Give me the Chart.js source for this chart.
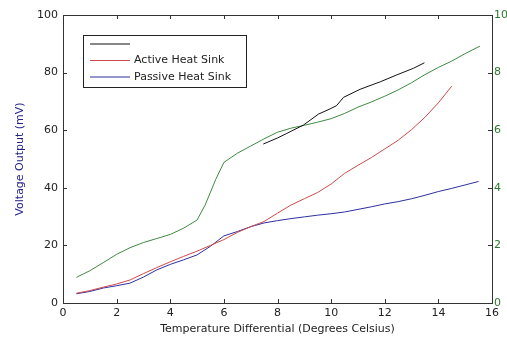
<!DOCTYPE html>
<html>
<head>
<meta charset="utf-8">
<script src="https://cdn.jsdelivr.net/npm/chart.js@4/dist/chart.umd.min.js"></script>
<style>
  body { margin: 0; background: #fff; }
  #c { display: block; }
</style>
</head>
<body>
<canvas id="c" width="507" height="338"></canvas>
<script>
// x ticks / axis ranges
const xTicks = [0, 2, 4, 6, 8, 10, 12, 14, 16];
const leftTicks = [0, 20, 40, 60, 80, 100];
const rightTicks = [0, 2, 4, 6, 8, 10];

// Active heat sink (mV)
const activeX = [0.5, 1, 1.5, 2, 2.5, 3, 3.5, 4, 4.5, 5, 5.5, 6, 6.5, 7, 7.5, 8, 8.5, 9, 9.5, 10, 10.5, 11, 11.5, 12, 12.5, 13, 13.5, 14, 14.5];
const activeY = [3.4, 4.3, 5.5, 6.6, 8, 10.2, 12.3, 14.3, 16.2, 18, 20, 22, 24.5, 26.5, 28.3, 31.2, 34, 36.2, 38.4, 41.3, 45, 47.8, 50.5, 53.5, 56.5, 60.2, 64.5, 69.5, 75.3];

// Passive heat sink (mV)
const passiveX = [0.5, 1, 1.5, 2, 2.5, 3, 3.5, 4, 4.5, 5, 5.5, 6, 6.5, 7, 7.5, 8, 8.5, 9, 9.5, 10, 10.5, 11, 11.5, 12, 12.5, 13, 13.5, 14, 14.5, 15, 15.5];
const passiveY = [3.2, 4, 5.2, 6, 6.9, 9, 11.5, 13.4, 15, 16.7, 19.7, 23.3, 24.8, 26.5, 27.8, 28.6, 29.3, 29.9, 30.5, 31, 31.6, 32.5, 33.4, 34.4, 35.2, 36.2, 37.4, 38.7, 39.8, 41, 42.2];

// unlabeled black series (mV)
const blackX = [7.47, 8, 8.35, 8.97, 9.53, 9.96, 10.2, 10.46, 11.08, 11.83, 12.45, 13.07, 13.48];
const blackY = [55.2, 57.3, 58.9, 61.8, 65.6, 67.4, 68.5, 71.4, 74.2, 76.8, 79.2, 81.5, 83.4];

// green series, right axis units
const greenX = [0.5, 1, 1.5, 2, 2.5, 3, 3.5, 4, 4.5, 5, 5.3, 5.7, 6, 6.5, 7, 7.5, 8, 8.5, 9, 9.5, 10, 10.5, 11, 11.5, 12, 12.5, 13, 13.5, 14, 14.5, 15, 15.55];
const greenY = [0.89, 1.12, 1.4, 1.69, 1.92, 2.1, 2.24, 2.38, 2.6, 2.88, 3.4, 4.3, 4.88, 5.2, 5.45, 5.7, 5.93, 6.07, 6.17, 6.28, 6.4, 6.58, 6.8, 6.98, 7.18, 7.4, 7.65, 7.93, 8.18, 8.4, 8.66, 8.92];

const pts = (xs, ys) => xs.map((x, i) => ({ x: x, y: ys[i] }));

const FONT = "'DejaVu Sans', Verdana, sans-serif";

// inward tick marks + frame, matlab style
const framePlugin = {
  id: "frame",
  afterDatasetsDraw(chart) {
    const ctx = chart.ctx;
    const a = chart.chartArea;
    const sx = chart.scales.x, sy = chart.scales.y, sy1 = chart.scales.y1;
    ctx.save();
    ctx.strokeStyle = "#333";
    ctx.lineWidth = 1;
    ctx.beginPath();
    xTicks.forEach((v) => {
      const px = Math.round(sx.getPixelForValue(v)) + 0.5;
      ctx.moveTo(px, a.bottom); ctx.lineTo(px, a.bottom - 4);
      ctx.moveTo(px, a.top); ctx.lineTo(px, a.top + 4);
    });
    leftTicks.forEach((v) => {
      const py = Math.round(sy.getPixelForValue(v)) + 0.5;
      ctx.moveTo(a.left, py); ctx.lineTo(a.left + 4, py);
    });
    rightTicks.forEach((v) => {
      const py = Math.round(sy1.getPixelForValue(v)) + 0.5;
      ctx.moveTo(a.right, py); ctx.lineTo(a.right - 4, py);
    });
    ctx.stroke();
    ctx.strokeRect(Math.round(a.left) + 0.5, Math.round(a.top) + 0.5,
      Math.round(a.right - a.left), Math.round(a.bottom - a.top));

    // legend box
    const lx = 83, ly = 35, lw = 163, lh = 52;
    ctx.fillStyle = "#fff";
    ctx.fillRect(lx, ly, lw, lh);
    ctx.strokeStyle = "#222";
    ctx.strokeRect(lx + 0.5, ly + 0.5, lw, lh);
    const rows = [0, 1, 2];
    ctx.font = "11px " + FONT;
    ctx.textBaseline = "middle";
    rows.forEach((i) => {
      const ds = chart.data.datasets[i];
      const yy = 44 + i * 16.5;
      ctx.strokeStyle = ds.borderColor;
      ctx.beginPath();
      ctx.moveTo(90, yy); ctx.lineTo(130, yy);
      ctx.stroke();
      ctx.fillStyle = "#222";
      ctx.fillText(ds.label, 134, yy);
    });
    ctx.restore();
  }
};

new Chart(document.getElementById("c"), {
  type: "line",
  data: {
    datasets: [
      { label: "", data: pts(blackX, blackY), borderColor: "#111", yAxisID: "y" },
      { label: "Active Heat Sink", data: pts(activeX, activeY), borderColor: "#cf4a4a", yAxisID: "y" },
      { label: "Passive Heat Sink", data: pts(passiveX, passiveY), borderColor: "#2e2ea0", yAxisID: "y" },
      { label: "green", data: pts(greenX, greenY), borderColor: "#3f8a3f", yAxisID: "y1" }
    ]
  },
  options: {
    responsive: false,
    animation: false,
    layout: { padding: { top: 15, left: 0, right: 0, bottom: 0 } },
    elements: {
      point: { radius: 0 },
      line: { borderWidth: 1, tension: 0 }
    },
    plugins: {
      legend: { display: false },
      tooltip: { enabled: false }
    },
    scales: {
      x: {
        type: "linear",
        min: 0, max: 16,
        afterBuildTicks: (s) => { s.ticks = xTicks.map((v) => ({ value: v })); },
        afterFit: (s) => { s.height = 35; },
        grid: { display: false, drawTicks: false },
        border: { display: false },
        ticks: { color: "#222", padding: 4, font: { family: FONT, size: 11 } },
        title: {
          display: true,
          text: "Temperature Differential (Degrees Celsius)",
          color: "#222",
          padding: { top: 0, bottom: 2 },
          font: { family: FONT, size: 11 }
        }
      },
      y: {
        position: "left",
        min: 0, max: 100,
        afterBuildTicks: (s) => { s.ticks = leftTicks.map((v) => ({ value: v })); },
        afterFit: (s) => { s.width = 63; },
        grid: { display: false, drawTicks: false },
        border: { display: false },
        ticks: { color: "#222", padding: 5, font: { family: FONT, size: 11 } },
        title: {
          display: true,
          text: "Voltage Output (mV)",
          color: "#22228a",
          padding: { top: 14, bottom: 0 },
          font: { family: FONT, size: 11 }
        }
      },
      y1: {
        position: "right",
        min: 0, max: 10,
        afterBuildTicks: (s) => { s.ticks = rightTicks.map((v) => ({ value: v })); },
        afterFit: (s) => { s.width = 15; },
        grid: { display: false, drawTicks: false },
        border: { display: false },
        ticks: { color: "#2a7a2a", padding: 2, font: { family: FONT, size: 11 } }
      }
    }
  },
  plugins: [framePlugin]
});
</script>
</body>
</html>
